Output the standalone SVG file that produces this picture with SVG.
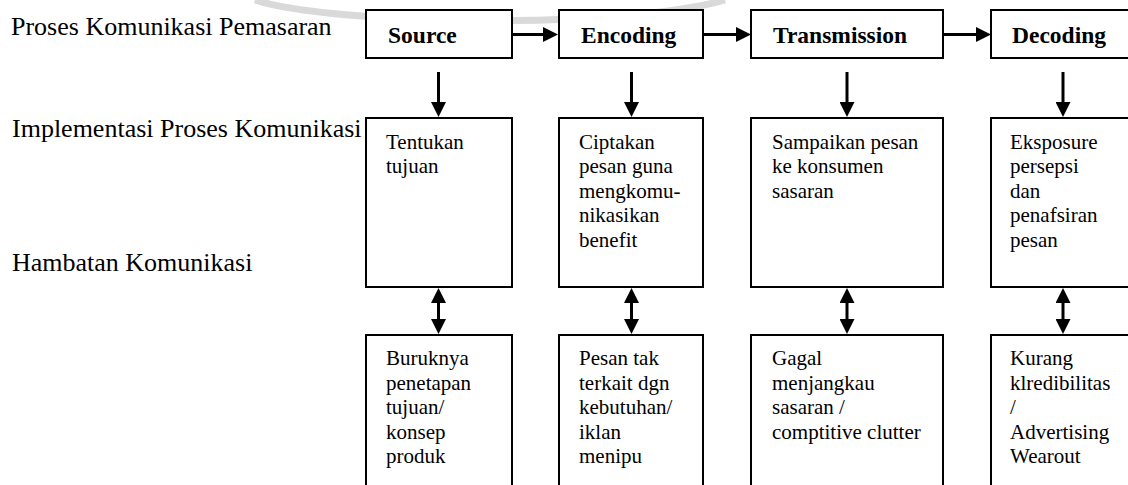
<svg xmlns="http://www.w3.org/2000/svg" width="1128" height="485" viewBox="0 0 1128 485">
<style>
.bx{fill:#fff;stroke:#000;stroke-width:2}
.lbl{font-family:"Liberation Serif","Times New Roman",serif;font-size:26px;fill:#000}
.ttl{font-family:"Liberation Serif","Times New Roman",serif;font-size:23.5px;font-weight:bold;fill:#000}
.txt{font-family:"Liberation Serif","Times New Roman",serif;font-size:21px;fill:#000}
.cn{stroke:#000;stroke-width:3;fill:none}
.wm{stroke:#d9d9d9;stroke-width:7;fill:none}
</style>
<defs>
<marker id="ah" viewBox="0 0 15 15" refX="3" refY="7.5" markerWidth="15" markerHeight="15" markerUnits="userSpaceOnUse" orient="auto-start-reverse">
<path d="M0,0 L15,7.5 L0,15 z" fill="#000"/>
</marker>
</defs>
<rect width="1128" height="485" fill="#fff"/>
<path class="wm" d="M255,0 C330,25 620,30 725,0"/>

<g id="labels">
<text class="lbl" x="11" y="35">Proses Komunikasi Pemasaran</text>
<text class="lbl" x="12" y="137">Implementasi Proses Komunikasi</text>
<text class="lbl" x="12" y="271">Hambatan Komunikasi</text>
</g>

<g id="connectors">
<line class="cn" x1="513" y1="34.5" x2="546" y2="34.5" marker-end="url(#ah)"/>
<line class="cn" x1="704" y1="34.5" x2="739" y2="34.5" marker-end="url(#ah)"/>
<line class="cn" x1="944" y1="34.5" x2="979" y2="34.5" marker-end="url(#ah)"/>
<line class="cn" x1="438.5" y1="72" x2="438.5" y2="105" marker-end="url(#ah)"/>
<line class="cn" x1="631.5" y1="72" x2="631.5" y2="105" marker-end="url(#ah)"/>
<line class="cn" x1="847" y1="72" x2="847" y2="105" marker-end="url(#ah)"/>
<line class="cn" x1="1063" y1="72" x2="1063" y2="105" marker-end="url(#ah)"/>
<line class="cn" x1="438.5" y1="300" x2="438.5" y2="322" marker-start="url(#ah)" marker-end="url(#ah)"/>
<line class="cn" x1="631.5" y1="300" x2="631.5" y2="322" marker-start="url(#ah)" marker-end="url(#ah)"/>
<line class="cn" x1="847" y1="300" x2="847" y2="322" marker-start="url(#ah)" marker-end="url(#ah)"/>
<line class="cn" x1="1063" y1="300" x2="1063" y2="322" marker-start="url(#ah)" marker-end="url(#ah)"/>
</g>

<g id="source">
<rect class="bx" x="366" y="10" width="146" height="48"/>
<text class="ttl" x="388" y="43">Source</text>
</g>
<g id="encoding">
<rect class="bx" x="559" y="10" width="144" height="48"/>
<text class="ttl" x="581" y="43">Encoding</text>
</g>
<g id="transmission">
<rect class="bx" x="751" y="10" width="192" height="48"/>
<text class="ttl" x="773" y="43">Transmission</text>
</g>
<g id="decoding">
<rect class="bx" x="991" y="10" width="144" height="48"/>
<text class="ttl" x="1012" y="43">Decoding</text>
</g>

<g id="impl-source">
<rect class="bx" x="366" y="118" width="146" height="169"/>
<text class="txt" x="386"><tspan x="386" y="148.5">Tentukan</tspan><tspan x="386" y="173">tujuan</tspan></text>
</g>
<g id="impl-encoding">
<rect class="bx" x="559" y="118" width="144" height="169"/>
<text class="txt"><tspan x="579" y="148.5">Ciptakan</tspan><tspan x="579" y="173">pesan guna</tspan><tspan x="579" y="197.5">mengkomu-</tspan><tspan x="579" y="222">nikasikan</tspan><tspan x="579" y="246.5">benefit</tspan></text>
</g>
<g id="impl-transmission">
<rect class="bx" x="751" y="118" width="192" height="169"/>
<text class="txt"><tspan x="772" y="148.5">Sampaikan pesan</tspan><tspan x="772" y="173">ke konsumen</tspan><tspan x="772" y="197.5">sasaran</tspan></text>
</g>
<g id="impl-decoding">
<rect class="bx" x="991" y="118" width="144" height="169"/>
<text class="txt"><tspan x="1010" y="148.5">Eksposure</tspan><tspan x="1010" y="173">persepsi</tspan><tspan x="1010" y="197.5">dan</tspan><tspan x="1010" y="222">penafsiran</tspan><tspan x="1010" y="246.5">pesan</tspan></text>
</g>

<g id="barrier-source">
<rect class="bx" x="366" y="335" width="146" height="160"/>
<text class="txt"><tspan x="386" y="365">Buruknya</tspan><tspan x="386" y="389.5">penetapan</tspan><tspan x="386" y="414">tujuan/</tspan><tspan x="386" y="438.5">konsep</tspan><tspan x="386" y="463">produk</tspan></text>
</g>
<g id="barrier-encoding">
<rect class="bx" x="559" y="335" width="144" height="160"/>
<text class="txt"><tspan x="579" y="365">Pesan tak</tspan><tspan x="579" y="389.5">terkait dgn</tspan><tspan x="579" y="414">kebutuhan/</tspan><tspan x="579" y="438.5">iklan</tspan><tspan x="579" y="463">menipu</tspan></text>
</g>
<g id="barrier-transmission">
<rect class="bx" x="751" y="335" width="192" height="160"/>
<text class="txt"><tspan x="772" y="365">Gagal</tspan><tspan x="772" y="389.5">menjangkau</tspan><tspan x="772" y="414">sasaran /</tspan><tspan x="772" y="438.5">comptitive clutter</tspan></text>
</g>
<g id="barrier-decoding">
<rect class="bx" x="991" y="335" width="144" height="160"/>
<text class="txt"><tspan x="1010" y="365">Kurang</tspan><tspan x="1010" y="389.5">klredibilitas</tspan><tspan x="1010" y="414">/</tspan><tspan x="1010" y="438.5">Advertising</tspan><tspan x="1010" y="463">Wearout</tspan></text>
</g>
</svg>
